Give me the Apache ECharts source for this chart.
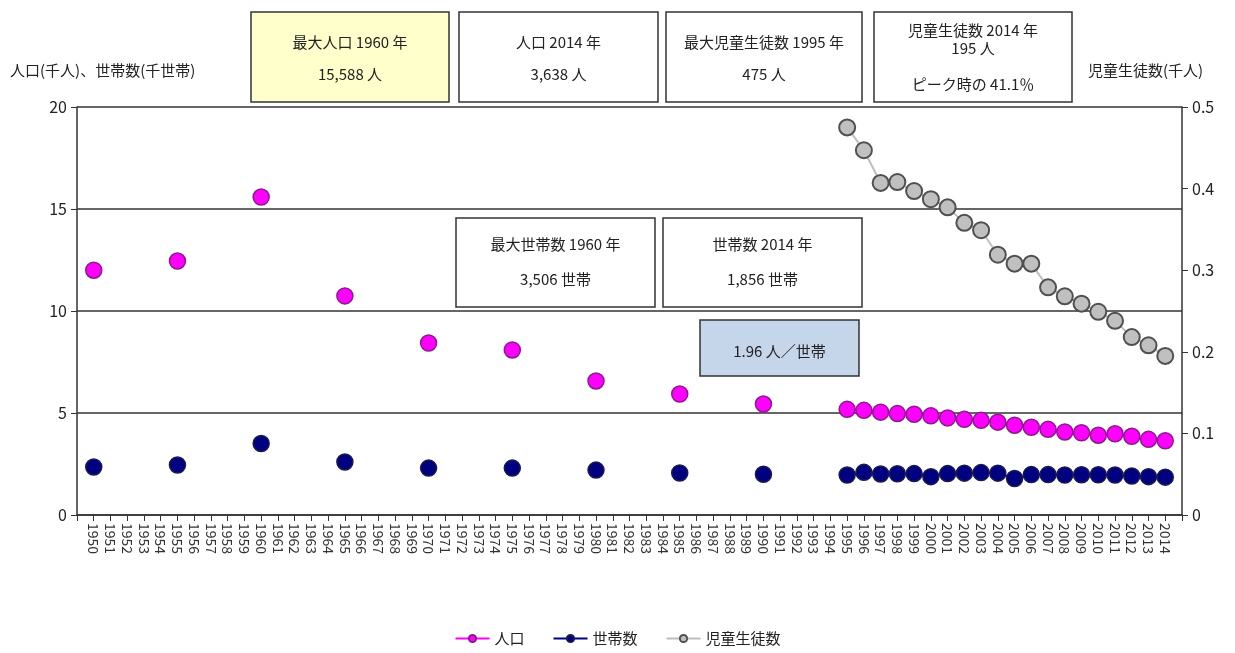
<!DOCTYPE html>
<html><head><meta charset="utf-8">
<script src="https://cdn.jsdelivr.net/npm/echarts@6/dist/echarts.min.js"></script>
<style>html,body{margin:0;padding:0;background:#fff}#c{width:1235px;height:653px}</style>
</head><body><div id="c"></div>
<script>
const years = [1950,1951,1952,1953,1954,1955,1956,1957,1958,1959,1960,1961,1962,1963,1964,1965,1966,1967,1968,1969,1970,1971,1972,1973,1974,1975,1976,1977,1978,1979,1980,1981,1982,1983,1984,1985,1986,1987,1988,1989,1990,1991,1992,1993,1994,1995,1996,1997,1998,1999,2000,2001,2002,2003,2004,2005,2006,2007,2008,2009,2010,2011,2012,2013,2014];
const population = [12.0,null,null,null,null,12.45,null,null,null,null,15.588,null,null,null,null,10.74,null,null,null,null,8.43,null,null,null,null,8.09,null,null,null,null,6.57,null,null,null,null,5.93,null,null,null,null,5.44,null,null,null,null,
  5.18,5.13,5.04,4.97,4.94,4.86,4.76,4.69,4.64,4.55,4.40,4.30,4.20,4.07,4.03,3.91,3.98,3.86,3.71,3.638];
const households = [2.35,null,null,null,null,2.45,null,null,null,null,3.506,null,null,null,null,2.6,null,null,null,null,2.3,null,null,null,null,2.3,null,null,null,null,2.2,null,null,null,null,2.06,null,null,null,null,2.0,null,null,null,null,
  1.96,2.09,2.01,2.02,2.03,1.88,2.03,2.05,2.08,2.05,1.79,1.98,1.98,1.96,1.97,1.97,1.96,1.91,1.88,1.856];
const students = [null,null,null,null,null,null,null,null,null,null,null,null,null,null,null,null,null,null,null,null,null,null,null,null,null,null,null,null,null,null,null,null,null,null,null,null,null,null,null,null,null,null,null,null,null,
  0.475,0.447,0.407,0.408,0.397,0.387,0.377,0.358,0.349,0.319,0.308,0.308,0.279,0.268,0.259,0.249,0.238,0.218,0.208,0.195];
const seriesNames = ['人口','世帯数','児童生徒数'];
const leftAxisName = '人口(千人)、世帯数(千世帯)';
const rightAxisName = '児童生徒数(千人)';
const notes = [
  {x:251,y:12,w:198,h:90,fill:'#FFFFCC',lines:[['最大人口 1960 年',42],['15,588 人',74]]},
  {x:459,y:12,w:199,h:90,fill:'#FFFFFF',lines:[['人口 2014 年',42],['3,638 人',74]]},
  {x:666,y:12,w:196,h:90,fill:'#FFFFFF',lines:[['最大児童生徒数 1995 年',42],['475 人',74]]},
  {x:874,y:12,w:198,h:90,fill:'#FFFFFF',lines:[['児童生徒数 2014 年',30],['195 人',48],['ピーク時の 41.1％',84]]},
  {x:456,y:218,w:199,h:89,fill:'#FFFFFF',lines:[['最大世帯数 1960 年',244],['3,506 世帯',279]]},
  {x:663,y:218,w:199,h:89,fill:'#FFFFFF',lines:[['世帯数 2014 年',244],['1,856 世帯',279]]},
  {x:700,y:320,w:159,h:56,fill:'#C5D5EA',lines:[['1.96 人／世帯',351]]}
];

const FONT = '"Noto Sans CJK JP", "Noto Sans", sans-serif';
const toPairs = arr => years.map((y,i)=>[y, arr[i]==null?'-':arr[i]]);

const graphics = [];
notes.forEach(n=>{
  graphics.push({type:'rect',shape:{x:n.x,y:n.y,width:n.w,height:n.h},style:{fill:n.fill,stroke:'#333',lineWidth:1.5},z:100});
  n.lines.forEach(([t,cy])=>{
    graphics.push({type:'text',x:n.x+n.w/2,y:cy,style:{text:t,font:'15px '+FONT,fill:'#222',textAlign:'center',textVerticalAlign:'middle'},z:101});
  });
});
graphics.push({type:'text',x:10,y:70,style:{text:leftAxisName,font:'15px '+FONT,fill:'#222',textVerticalAlign:'middle'}});
graphics.push({type:'text',x:1088,y:70,style:{text:rightAxisName,font:'15px '+FONT,fill:'#222',textVerticalAlign:'middle'}});

const chart = echarts.init(document.getElementById('c'));
chart.setOption({
  animation:false,
  textStyle:{fontFamily:FONT},
  grid:{left:77,right:53,top:107,bottom:138},
  legend:{bottom:2,left:'center',itemWidth:34,itemHeight:9,itemGap:28,textStyle:{fontSize:15,color:'#222'},data:seriesNames},
  xAxis:{type:'value',min:1949,max:2015,interval:1,
    axisLine:{lineStyle:{color:'#333',width:1.5}},
    axisTick:{length:6,lineStyle:{color:'#333'}},
    splitLine:{show:false},
    axisLabel:{rotate:-90,fontSize:14,color:'#333',margin:8,formatter:v=>(v<1950||v>2014)?'':String(v)}},
  yAxis:[
    {type:'value',min:0,max:20,interval:5,position:'left',
      axisLine:{show:true,lineStyle:{color:'#333',width:1.5}},
      axisTick:{show:true,length:6,lineStyle:{color:'#333'}},
      axisLabel:{fontSize:16,color:'#222',margin:10},
      splitLine:{show:true,lineStyle:{color:'#333',width:1.5}}},
    {type:'value',min:0,max:0.5,interval:0.1,position:'right',
      axisLine:{show:true,lineStyle:{color:'#333',width:1.5}},
      axisTick:{show:true,length:6,lineStyle:{color:'#333'}},
      axisLabel:{fontSize:16,color:'#222',margin:10},
      splitLine:{show:false}}
  ],
  series:[
    {name:seriesNames[0],type:'line',yAxisIndex:0,data:toPairs(population),connectNulls:false,
      symbol:'circle',symbolSize:16,lineStyle:{color:'#FF00FF',width:2},
      itemStyle:{color:'#FF00FF',borderColor:'#8B1A8B',borderWidth:1.5},z:3},
    {name:seriesNames[1],type:'line',yAxisIndex:0,data:toPairs(households),connectNulls:false,
      symbol:'circle',symbolSize:16,lineStyle:{color:'#000080',width:2},
      itemStyle:{color:'#000080',borderColor:'#1a1a50',borderWidth:1.5},z:3},
    {name:seriesNames[2],type:'line',yAxisIndex:1,data:toPairs(students),connectNulls:false,
      symbol:'circle',symbolSize:16,lineStyle:{color:'#BEBEBE',width:2},
      itemStyle:{color:'#C0C0C0',borderColor:'#505050',borderWidth:2},z:3}
  ],
  graphic:graphics
});
</script></body></html>
